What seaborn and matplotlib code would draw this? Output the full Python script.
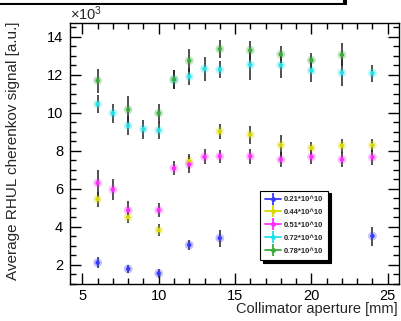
import numpy as np
import pandas as pd
import matplotlib
matplotlib.use("Agg")
import matplotlib.pyplot as plt
from matplotlib.lines import Line2D
from matplotlib.legend_handler import HandlerTuple
from matplotlib.patches import Rectangle
import seaborn as sns

# ---- data (values in units of 10^3) ----
labels = ["0.21*10^10", "0.44*10^10", "0.51*10^10", "0.72*10^10", "0.78*10^10"]
colors = ["#3a3aff", "#d8d800", "#ff2cff", "#22e0e8", "#3caa3c"]

x_021 = [6, 8, 10, 12, 14, 24]
y_021 = [2.12, 1.79, 1.56, 3.05, 3.41, 3.52]
e_021 = [0.28, 0.22, 0.24, 0.28, 0.44, 0.50]

x_044 = [6, 8, 10, 12, 14, 16, 18, 20, 22, 24]
y_044 = [5.46, 4.51, 3.83, 7.45, 9.02, 8.85, 8.30, 8.15, 8.27, 8.29]
e_044 = [0.40, 0.30, 0.30, 0.40, 0.40, 0.47, 0.55, 0.30, 0.37, 0.35]

x_051 = [6, 7, 8, 10, 11, 12, 13, 14, 16, 18, 20, 22, 24]
y_051 = [6.31, 5.96, 4.88, 4.88, 7.08, 7.29, 7.68, 7.71, 7.71, 7.54, 7.68, 7.54, 7.66]
e_051 = [0.68, 0.55, 0.50, 0.37, 0.37, 0.45, 0.40, 0.35, 0.39, 0.38, 0.37, 0.41, 0.39]

x_072 = [6, 7, 8, 9, 10, 11, 12, 13, 14, 16, 18, 20, 22, 24]
y_072 = [10.45, 9.98, 9.32, 9.14, 9.07, 11.73, 11.90, 12.31, 12.27, 12.52, 12.50, 12.22, 12.10, 12.08]
e_072 = [0.46, 0.50, 0.50, 0.50, 0.44, 0.50, 0.44, 0.62, 0.44, 0.82, 0.65, 0.60, 0.70, 0.45]

x_078 = [6, 8, 10, 11, 12, 14, 16, 18, 20, 22]
y_078 = [11.69, 10.16, 9.98, 11.75, 12.74, 13.35, 13.28, 13.07, 12.76, 13.04]
e_078 = [0.63, 0.70, 0.50, 0.50, 0.60, 0.47, 0.50, 0.45, 0.40, 0.60]

xs = [x_021, x_044, x_051, x_072, x_078]
ys = [y_021, y_044, y_051, y_072, y_078]
es = [e_021, e_044, e_051, e_072, e_078]

frames = []
for lab, x, y, e in zip(labels, xs, ys, es):
    frames.append(pd.DataFrame({"aperture": x, "signal": y, "err": e, "intensity": lab}))
df = pd.concat(frames, ignore_index=True)

sns.set_style("ticks")
plt.rcParams["font.family"] = ["Liberation Sans", "DejaVu Sans"]
plt.rcParams["mathtext.fontset"] = "custom"
plt.rcParams["mathtext.rm"] = "Liberation Sans"
plt.rcParams["mathtext.it"] = "Liberation Sans"

fig = plt.figure(figsize=(4.02, 3.21), dpi=100)
ax = fig.add_axes([70/402, 1-284/321, (399-70)/402, (284-23.3)/321])

palette = dict(zip(labels, colors))

# error bars
for lab, x, y, e in zip(labels, xs, ys, es):
    ax.errorbar(x, y, yerr=e, fmt="none", ecolor="#222222", elinewidth=1.1, capsize=0, zorder=2)

# glow + points
sns.scatterplot(data=df, x="aperture", y="signal", hue="intensity", palette=palette,
                s=40, alpha=0.3, edgecolor="none", legend=False, ax=ax, zorder=3)
sns.scatterplot(data=df, x="aperture", y="signal", hue="intensity", palette=palette,
                s=10, edgecolor="none", legend=False, ax=ax, zorder=4)

ax.set_xlim(4.19, 25.74)
ax.set_ylim(1.0, 14.7)
ax.set_xticks([5, 10, 15, 20, 25])
ax.set_xticks(np.arange(5, 26, 1), minor=True)
ax.set_yticks([2, 4, 6, 8, 10, 12, 14])
ax.set_yticks(np.arange(1.0, 14.71, 0.5), minor=True)
ax.tick_params(which="both", direction="in", top=True, right=True, width=1.0, colors="black")
ax.tick_params(which="major", length=8, labelsize=10.5)
ax.tick_params(axis="x", which="major", pad=3.5)
ax.tick_params(axis="y", which="major", pad=5)
ax.tick_params(which="minor", length=4)
for sp in ax.spines.values():
    sp.set_linewidth(1.0)
    sp.set_color("black")
ax.set_xlabel("")
ax.set_ylabel("")

fig.text(398/402, 1-309/321, "Collimator aperture [mm]", ha="right", va="center", fontsize=10.5)
fig.text(13/402, 1-21/321, "Average RHUL cherenkov signal [a.u.]", rotation=90,
         ha="center", va="top", fontsize=11)
fig.text(70/402, 1-20/321, r"$\times10^{3}$", ha="left", va="baseline", fontsize=10.5)

# title box remnant at top
fig.patches.append(Rectangle((-0.02, 1-5/321), 2/402 + 0.02 + 345/402, 0.1, transform=fig.transFigure,
                             facecolor="black", edgecolor="none", zorder=0))
fig.patches.append(Rectangle((-0.02, 1-3/321), 0.02 + 343/402, 0.1, transform=fig.transFigure,
                             facecolor="white", edgecolor="black", linewidth=0.8, zorder=1))

# legend
handles = []
for c in colors:
    h1 = Line2D([], [], color=c, lw=1.3, marker="o", markersize=3.5, markeredgecolor="none")
    h2 = Line2D([], [], color=c, lw=0, marker="|", markersize=8, markeredgewidth=1.3)
    handles.append((h1, h2))
leg = ax.legend(handles, labels, handler_map={tuple: HandlerTuple(ndivide=1)},
                loc="lower left", bbox_to_anchor=(260/402, 1-260/321), bbox_transform=fig.transFigure,
                prop={"weight": "bold", "size": 5.5}, frameon=True, fancybox=False,
                shadow={"color": "black", "alpha": 1, "ox": 2, "oy": -2},
                handlelength=2.0, handletextpad=0.4, labelspacing=0.72, borderpad=0.7,
                borderaxespad=0)
leg.get_frame().set_edgecolor("black")
leg.get_frame().set_linewidth(0.8)
leg.get_frame().set_alpha(1)

fig.savefig("out.png", dpi=100)
